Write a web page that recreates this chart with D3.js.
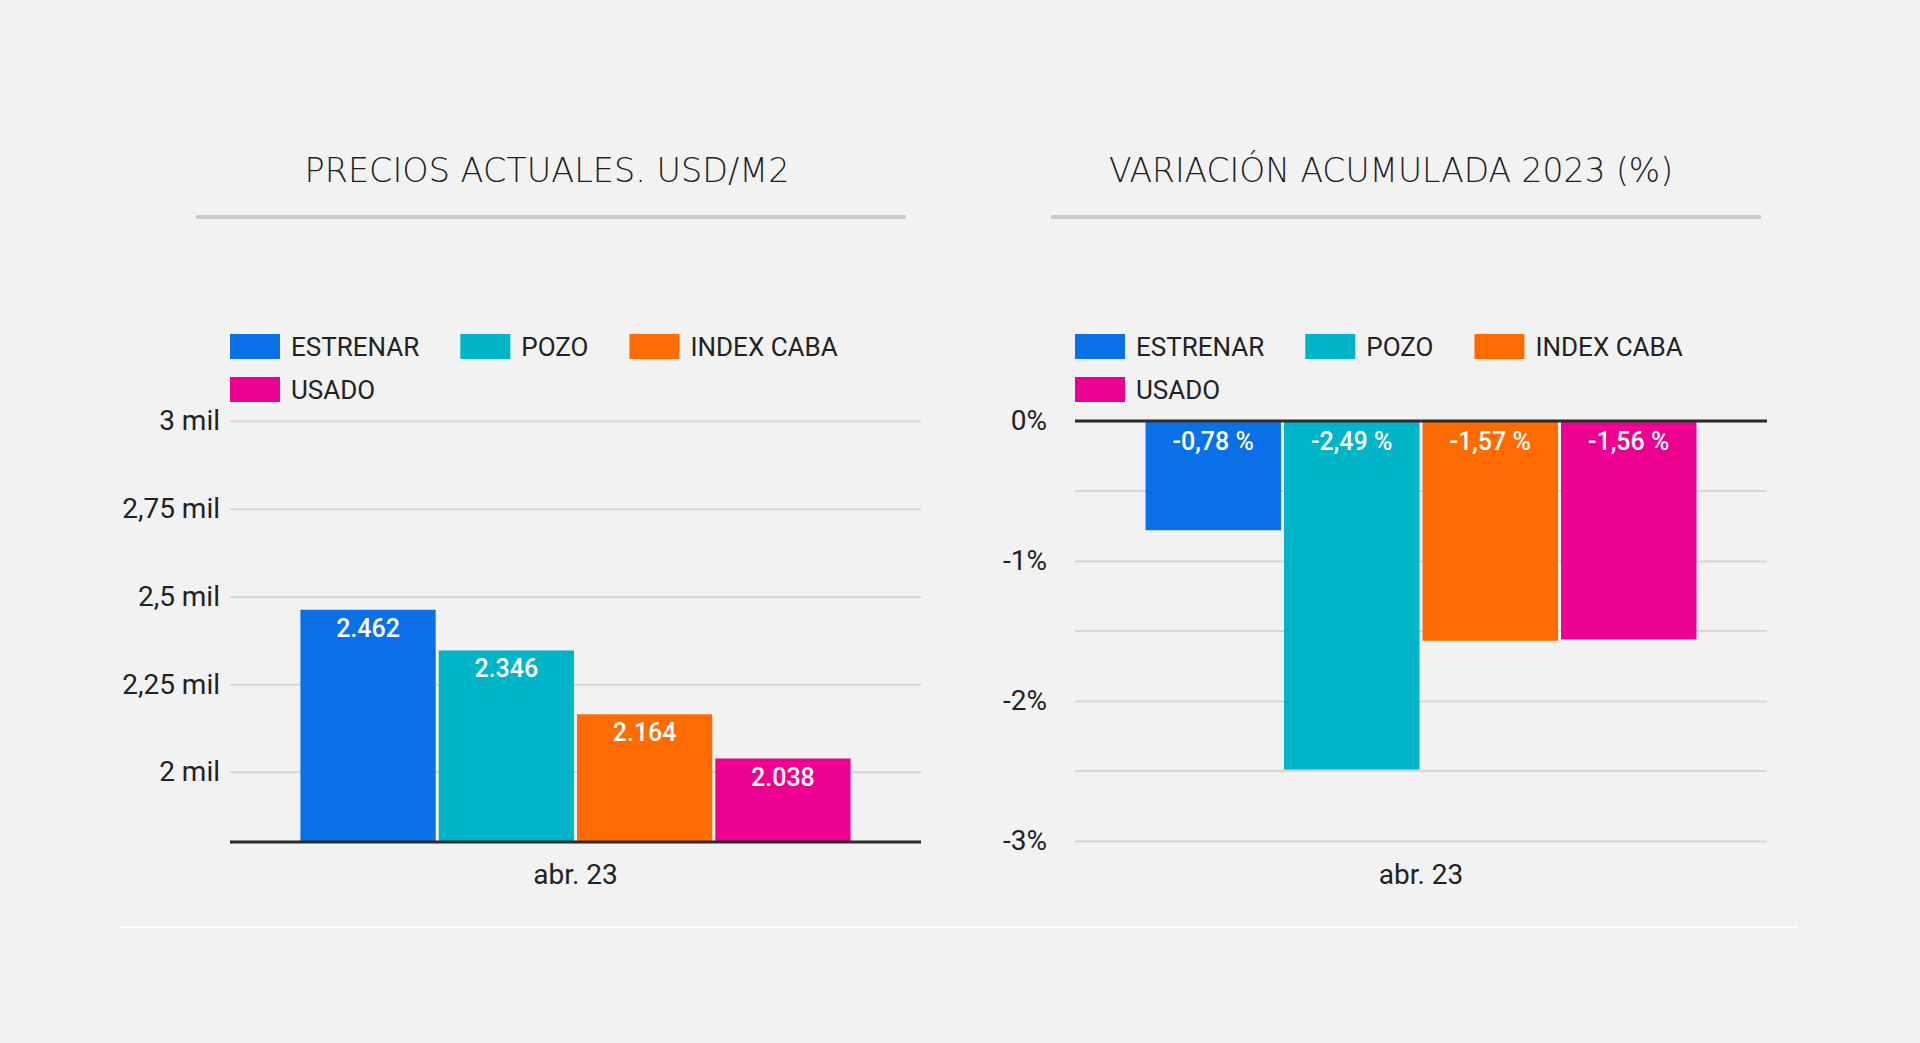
<!DOCTYPE html>
<html>
<head>
<meta charset="utf-8">
<script src="https://cdn.jsdelivr.net/npm/d3@7/dist/d3.min.js"></script>
<style>
  html, body { margin: 0; padding: 0; background: #f2f2f2; }
  svg { display: block; }
</style>
</head>
<body>
<svg id="chart" width="1920" height="1043"></svg>
<script>
// ---- data ----
const categories = ["abr. 23"];
const seriesNames = ["ESTRENAR", "POZO", "INDEX CABA", "USADO"];
const seriesColors = ["#0a70e8", "#00b5c8", "#ff6b00", "#ec0090"];
const prices = [2462, 2346, 2164, 2038];
const variation = [-0.78, -2.49, -1.57, -1.56];
const priceTicks = [2000, 2250, 2500, 2750, 3000];
const priceTickLabels = ["2 mil", "2,25 mil", "2,5 mil", "2,75 mil", "3 mil"];
const varTicks = [0, -1, -2, -3];
const varTickLabels = ["0%", "-1%", "-2%", "-3%"];
const varMinorTicks = [-0.5, -1.5, -2.5];
const titles = ["PRECIOS ACTUALES. USD/M2", "VARIACIÓN ACUMULADA 2023 (%)"];

const loc = d3.formatLocale({decimal: ",", thousands: ".", grouping: [3], currency: ["$", ""], minus: "-"});
const fmtPrice = loc.format(",d");
const fmtVar = v => loc.format(".2f")(v) + " %";

const svg = d3.select("#chart");
svg.append("rect").attr("width", 1920).attr("height", 1043).attr("fill", "#f2f2f2");

const FONT = "Roboto, 'Liberation Sans', sans-serif";

// bottom white separator
svg.append("rect").attr("x", 120).attr("y", 926).attr("width", 1678).attr("height", 2).attr("fill", "#ffffff");

function panel(opts) {
  const g = svg.append("g");
  const {left, right, top, bottom, title, titleX, ticks, tickLabels, minor, domain, values, fmt, baseValue, labelGap} = opts;

  // title + underline
  g.append("text").attr("x", titleX).attr("y", 182)
    .attr("text-anchor", "middle")
    .attr("font-family", "'DejaVu Sans', 'Open Sans', sans-serif")
    .attr("font-weight", 200)
    .attr("font-size", 34)
    .attr("fill", "#1e1e1e")
    .attr("textLength", opts.titleW)
    .attr("lengthAdjust", "spacingAndGlyphs")
    .text(title);
  g.append("rect").attr("x", opts.ulX).attr("y", 215).attr("width", 710).attr("height", 4)
    .attr("fill", "#c9c9c9").attr("rx", 1);

  // legend (flow layout)
  const lg = g.append("g");
  let lx = left, ly = 346.5;
  seriesNames.forEach((name, i) => {
    const item = lg.append("g");
    item.append("rect").attr("x", 0).attr("y", -12.5).attr("width", 50).attr("height", 25).attr("fill", seriesColors[i]);
    const t = item.append("text").attr("x", 61).attr("y", 0).attr("dy", "0.35em")
      .attr("font-family", FONT).attr("font-size", 26).attr("fill", "#222").text(name);
    const w = 61 + t.node().getComputedTextLength();
    if (lx + w > right && lx > left) { lx = left; ly += 43; }
    item.attr("transform", `translate(${lx},${ly})`);
    lx += w + 41;
  });

  // scales
  const x0 = d3.scaleBand().domain(categories).range([left, right]).paddingOuter(0.128).paddingInner(0);
  const x1 = d3.scaleBand().domain(seriesNames).range([0, x0.bandwidth()]).paddingInner(0.022);
  const y = d3.scaleLinear().domain(domain).range([bottom, top]);

  // grid (minor)
  g.selectAll(".minor").data(minor).join("line")
    .attr("x1", left).attr("x2", right)
    .attr("y1", d => y(d)).attr("y2", d => y(d))
    .attr("stroke", "#d6d6d6").attr("stroke-width", 2);

  // y axis with gridlines
  const yAxis = d3.axisLeft(y).tickValues(ticks)
    .tickFormat((d, i) => tickLabels[i])
    .tickSize(-(right - left)).tickPadding(opts.tickPad);
  const ax = g.append("g").attr("transform", `translate(${left},0)`).call(yAxis);
  ax.select(".domain").remove();
  ax.selectAll(".tick line").attr("stroke", "#d6d6d6").attr("stroke-width", 2);
  ax.selectAll(".tick text").attr("font-family", FONT).attr("font-size", 28).attr("fill", "#222");

  // bars
  const bars = g.append("g");
  categories.forEach(c => {
    seriesNames.forEach((s, i) => {
      const v = values[i];
      const y0 = y(baseValue), yv = y(v);
      bars.append("rect")
        .attr("x", x0(c) + x1(s)).attr("width", x1.bandwidth())
        .attr("y", Math.min(y0, yv)).attr("height", Math.abs(yv - y0))
        .attr("fill", seriesColors[i]);
      bars.append("text")
        .attr("x", x0(c) + x1(s) + x1.bandwidth() / 2)
        .attr("y", Math.min(y0, yv) + labelGap)
        .attr("text-anchor", "middle")
        .attr("font-family", FONT).attr("font-weight", 500).attr("font-size", 25)
        .attr("fill", "#ffffff")
        .text(fmt(v));
    });
  });

  // baseline (dark)
  g.append("line").attr("x1", left).attr("x2", right)
    .attr("y1", y(baseValue)).attr("y2", y(baseValue))
    .attr("stroke", "#2b2b2b").attr("stroke-width", 3);

  // x axis label
  const xAxis = d3.axisBottom(x0).tickSize(0).tickPadding(0);
  const xa = g.append("g").attr("transform", `translate(0,${opts.xLabelY})`).call(xAxis);
  xa.select(".domain").remove();
  xa.selectAll(".tick text").attr("font-family", FONT).attr("font-size", 28).attr("fill", "#222").attr("dy", "0.35em");
}

panel({
  left: 230, right: 921, top: 421, bottom: 842,
  title: titles[0], titleX: 547, titleW: 485, ulX: 196,
  ticks: priceTicks, tickLabels: priceTickLabels, minor: [],
  domain: [1800, 3000], values: prices, fmt: fmtPrice, baseValue: 1800,
  labelGap: 27, tickPad: 10, xLabelY: 874
});

panel({
  left: 1075, right: 1767, top: 421, bottom: 841,
  title: titles[1], titleX: 1391, titleW: 564, ulX: 1051,
  ticks: varTicks, tickLabels: varTickLabels, minor: varMinorTicks,
  domain: [-3, 0], values: variation, fmt: fmtVar, baseValue: 0,
  labelGap: 29, tickPad: 28, xLabelY: 874
});
</script>
</body>
</html>
